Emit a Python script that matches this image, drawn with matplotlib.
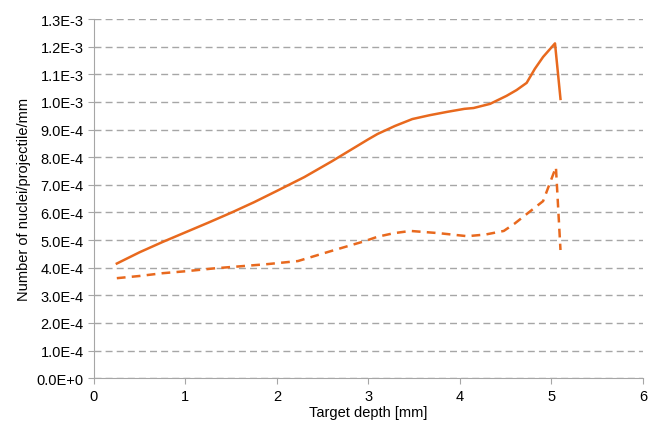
import numpy as np
import matplotlib.pyplot as plt
from matplotlib.ticker import FuncFormatter

plt.rcParams['font.family'] = ['Liberation Sans', 'DejaVu Sans']

# profundidad (mm) y valores
depth_solid = [0.25, 0.5, 0.75, 1.0, 1.25, 1.5, 1.75, 2.0, 2.3, 2.6, 2.88, 3.0, 3.1,
               3.29, 3.48, 3.67, 3.86, 4.05, 4.15, 4.33, 4.51, 4.62, 4.73, 4.82,
               4.91, 5.04, 5.10]
solid = [4.15e-4, 4.56e-4, 4.93e-4, 5.28e-4, 5.63e-4, 5.99e-4, 6.37e-4, 6.78e-4,
         7.28e-4, 7.85e-4, 8.41e-4, 8.65e-4, 8.84e-4, 9.13e-4, 9.38e-4, 9.52e-4,
         9.64e-4, 9.75e-4, 9.78e-4, 9.93e-4, 1.022e-3, 1.043e-3, 1.069e-3,
         1.12e-3, 1.163e-3, 1.212e-3, 1.011e-3]

depth_dash = [0.25, 0.5, 0.75, 1.0, 1.33, 1.6, 1.9, 2.23, 2.59, 2.96, 3.1,
              3.28, 3.46, 3.77, 4.08, 4.28, 4.48, 4.6, 4.73, 4.91, 5.05, 5.10]
dash = [3.62e-4, 3.7e-4, 3.8e-4, 3.87e-4, 3.98e-4, 4.05e-4, 4.13e-4, 4.24e-4,
        4.6e-4, 4.96e-4, 5.12e-4, 5.25e-4, 5.33e-4, 5.25e-4, 5.14e-4, 5.2e-4,
        5.33e-4, 5.6e-4, 5.94e-4, 6.41e-4, 7.64e-4, 4.64e-4]

color = '#E8691E'

fig = plt.figure(figsize=(6.48, 4.27), dpi=100)
ax = fig.add_axes([0.145, 0.112, 0.847, 0.841])

ax.plot(depth_solid, solid, color=color, lw=1.8)
ax.plot(depth_dash, dash, color=color, lw=1.8, ls=(0, (3.5, 2.5)))

ax.set_xlim(0, 6)
ax.set_ylim(0, 1.3e-3)
ax.set_xticks(np.arange(0, 7, 1))
ax.set_yticks(np.arange(0, 14) * 1e-4)

def sci(v, pos):
    if abs(v) < 1e-12:
        return '0.0E+0'
    e = int(np.floor(np.log10(abs(v)) + 1e-9))
    m = v / 10**e
    return f'{m:.1f}E{e:+d}'

ax.yaxis.set_major_formatter(FuncFormatter(sci))
ax.grid(axis='y', color='#A6A6A6', ls=(0, (5, 3)), lw=1)
ax.set_axisbelow(True)

for s in ['top', 'right']:
    ax.spines[s].set_visible(False)
for s in ['left', 'bottom']:
    ax.spines[s].set_color('#A6A6A6')
ax.tick_params(colors='#A6A6A6', labelcolor='black', labelsize=10.5, length=4)

ax.set_xlabel('Target depth [mm]', fontsize=10.5, labelpad=2)
ax.set_ylabel('Number of nuclei/projectile/mm', fontsize=10.5, labelpad=4)

plt.savefig('out.png', dpi=100)
